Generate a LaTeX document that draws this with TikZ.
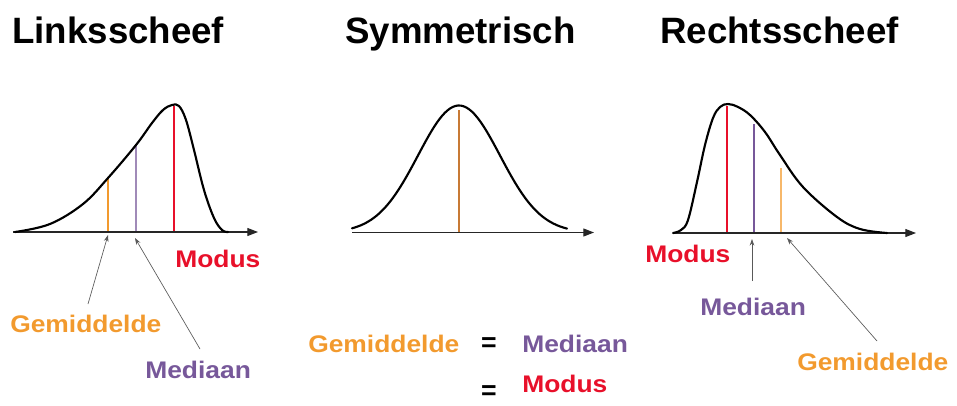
\documentclass[tikz,border=0pt]{standalone}
\usepackage{fontspec}
\setmainfont{Liberation Sans}
\usetikzlibrary{arrows.meta}
\definecolor{cOr}{HTML}{F29A2E}
\definecolor{cOrPale}{HTML}{F7B86A}
\definecolor{cPu}{HTML}{77589A}
\definecolor{cRe}{HTML}{E8102A}
\definecolor{cMix}{HTML}{C87A35}
\newcommand\wide[1]{\scalebox{1.1}[1]{#1}}
\begin{document}
\begin{tikzpicture}[x=0.75pt,y=-0.75pt,
  title/.style={font=\fontsize{27.5pt}{30pt}\selectfont\bfseries,anchor=base west,inner sep=0},
  lab/.style={font=\fontsize{18pt}{20pt}\selectfont\bfseries,anchor=base west,inner sep=0},
  eq/.style={font=\fontsize{20pt}{22pt}\selectfont\bfseries,inner sep=0},
  axis/.style={draw=black!85,line width=0.8pt,-{Triangle[length=8pt,width=6pt]}},
  curve/.style={draw=black,line width=1.6pt,line cap=round,line join=round},
  vline/.style={line width=2pt},
  pointer/.style={draw=black!65,line width=0.5pt,-{Stealth[length=5pt,width=3.5pt]}}]
\useasboundingbox (0,0) rectangle (957,405);

% titles
\node[title] (t1) at (12,43) {Linksscheef};
\node[title] (t2) at (345,43) {Symmetrisch};
\node[title] (t3) at (660,43) {Rechtsscheef};

% ---------- left panel ----------
\coordinate (la0) at (13,232);
\coordinate (la1) at (258,232);
\draw[vline,cOr] (108,232) -- (108,178);
\draw[vline,cPu!70] (136,232) -- (136,144);
\draw[vline,cRe] (174,232) -- (174,106);
\draw[axis] (la0) -- (la1);
\draw[curve] plot[smooth,tension=0.6] coordinates {(15,232) (50,224) (83,204) (108,178) (136,145) (152,123) (163,110) (172,105) (179,106) (186,120) (194,150) (204,190) (214,218) (222,230) (228,232)};
\coordinate (lfG) at (108,235);
\coordinate (lfM) at (135,238);
\node[lab,text=cRe] (lMo) at (175,267) {\wide{Modus}};
\node[lab,text=cOr] (lGe) at (10,332) {\wide{Gemiddelde}};
\node[lab,text=cPu] (lMe) at (145,378) {\wide{Mediaan}};
\draw[pointer] (88,304) -- (lfG);
\draw[pointer] (200,349) -- (lfM);

% ---------- middle panel ----------
\coordinate (ma0) at (352,232.5);
\coordinate (ma1) at (594,232.5);
\draw[vline,cMix] (459,232) -- (459,110);
\draw[axis] (ma0) -- (ma1);
\draw[curve] plot[domain=352:567,samples=80,smooth] (\x,{232.5-127*exp(-((\x-459)/41)^2/2)});
\node[lab,text=cOr] (mGe) at (308,352) {\wide{Gemiddelde}};
\node[eq] (mEq1) at (489,345) {=};
\node[lab,text=cPu] (mMe) at (522,352) {\wide{Mediaan}};
\node[lab,text=cRe] (mMo) at (522,392) {\wide{Modus}};
\node[eq] (mEq2) at (489,393) {=};

% ---------- right panel ----------
\coordinate (ra0) at (673,233);
\coordinate (ra1) at (916,233);
\draw[vline,cRe] (727,233) -- (727,106);
\draw[vline,cPu] (754,233) -- (754,124);
\draw[vline,cOrPale] (781,233) -- (781,168);
\draw[axis] (ra0) -- (ra1);
\draw[curve] plot[smooth,tension=0.6] coordinates {(673,233) (681,230) (688,220) (697,182) (705,145) (713,118) (720,107) (728,104) (738,107) (750,115) (765,132) (780,155) (803,187) (837,217) (860,229) (887,233)};
\coordinate (rfM) at (752,239);
\coordinate (rfG) at (787,238);
\node[lab,text=cRe] (rMo) at (645,262) {\wide{Modus}};
\node[lab,text=cPu] (rMe) at (700,315) {\wide{Mediaan}};
\node[lab,text=cOr] (rGe) at (797,370) {\wide{Gemiddelde}};
\draw[pointer] (752,281) -- (rfM);
\draw[pointer] (877,341) -- (rfG);
\end{tikzpicture}
\end{document}
